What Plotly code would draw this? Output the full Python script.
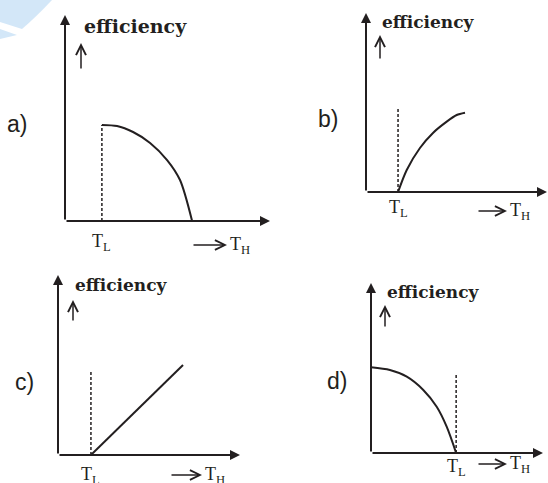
import plotly.graph_objects as go

W, H = 548, 483
INK = "#231f20"

# values (axis units 0..10 on both axes of every panel)
a_T = [1.80, 2.54, 3.32, 4.15, 4.98, 5.61, 6.20]
a_eff = [4.66, 4.61, 4.32, 3.79, 2.96, 1.99, 0.0]
a_TL, a_dash_top = 1.80, 4.66

b_T = [1.77, 2.25, 2.98, 3.70, 4.46, 5.01, 5.47]
b_eff = [0.0, 1.23, 2.46, 3.30, 3.93, 4.30, 4.43]
b_TL, b_dash_top = 1.77, 4.75

c_T = [1.81, 6.87]
c_eff = [0.0, 5.0]
c_TL, c_dash_top = 1.81, 4.72

d_T = [0.0, 1.10, 2.08, 3.04, 3.82, 4.40, 4.95]
d_eff = [5.04, 4.88, 4.49, 3.71, 2.72, 1.55, 0.0]
d_TL, d_dash_top = 4.95, 4.71

panel_labels = ["a)", "b)", "c)", "d)"]


def px(x):
    return x / W


def py(y):
    return 1 - y / H


# pixel boxes of each panel: origin x, arrow tip x, origin y, arrow tip y
boxes = [(65, 270, 221, 15), (366, 547, 192, 13), (58, 240, 455, 275), (371, 543, 453, 283)]

fig = go.Figure()
layout = dict(width=W, height=H, margin=dict(l=0, r=0, t=0, b=0),
              paper_bgcolor="white", plot_bgcolor="rgba(0,0,0,0)", showlegend=False)
for i, (x0, x1, y0, y1) in enumerate(boxes):
    n = "" if i == 0 else str(i + 1)
    layout["xaxis" + n] = dict(domain=[px(x0), px(x1)], range=[0, 10], visible=False,
                               anchor="y" + n, fixedrange=True)
    layout["yaxis" + n] = dict(domain=[py(y0), py(y1)], range=[0, 10], visible=False,
                               anchor="x" + n, fixedrange=True)
fig.update_layout(**layout)

curves = [(a_T, a_eff, "spline"), (b_T, b_eff, "spline"), (c_T, c_eff, "linear"), (d_T, d_eff, "spline")]
dashes = [(a_TL, a_dash_top), (b_TL, b_dash_top), (c_TL, c_dash_top), (d_TL, d_dash_top)]
for i in range(4):
    n = "" if i == 0 else str(i + 1)
    xs, ys, shape = curves[i]
    fig.add_trace(go.Scatter(x=xs, y=ys, mode="lines", xaxis="x" + n, yaxis="y" + n,
                             line=dict(color=INK, width=2, shape=shape, smoothing=0.8)))
    tl, top = dashes[i]
    fig.add_trace(go.Scatter(x=[tl, tl], y=[0, top], mode="lines", xaxis="x" + n, yaxis="y" + n,
                             line=dict(color=INK, width=1.5, dash="3px,2px")))

ann = []
# axes with filled arrow heads
for i in range(4):
    n = "" if i == 0 else str(i + 1)
    for (hx, hy) in [(10, 0), (0, 10)]:
        ann.append(dict(x=hx, y=hy, ax=0, ay=0, xref="x" + n, yref="y" + n,
                        axref="x" + n, ayref="y" + n, text="", showarrow=True,
                        arrowhead=2, arrowsize=1, arrowwidth=2, arrowcolor=INK))

# "efficiency" titles: left x, centre y, size
eff_pos = [(82, 26, 19), (380, 22, 17), (73, 285, 17), (385, 292, 17)]
for (x, y, s) in eff_pos:
    ann.append(dict(x=px(x), y=py(y), xref="paper", yref="paper", text="<b>efficiency</b>",
                    showarrow=False, xanchor="left", yanchor="middle",
                    font=dict(family="DejaVu Serif", size=s, color=INK)))

# small up arrows under the titles: x, top y, bottom y
up_pos = [(81, 43, 70), (380, 35, 60), (73, 300, 322), (385, 305, 328)]
for (x, t, b) in up_pos:
    ann.append(dict(x=px(x), y=py(t), xref="paper", yref="paper", ax=0, ay=b - t,
                    axref="pixel", ayref="pixel", text="", showarrow=True,
                    arrowhead=5, arrowsize=1.3, arrowwidth=1.5, arrowcolor=INK))

# panel letters: left x, centre y
lab_pos = [(5, 124), (316, 119), (13, 382), (325, 381)]
for lab, (x, y) in zip(panel_labels, lab_pos):
    ann.append(dict(x=px(x), y=py(y), xref="paper", yref="paper", text=lab, showarrow=False,
                    xanchor="left", yanchor="middle",
                    font=dict(family="Liberation Sans", size=23, color=INK)))

# T_L labels under the dashed line
tl_top = [229, 195, 462, 454]
for i in range(4):
    n = "" if i == 0 else str(i + 1)
    ann.append(dict(x=dashes[i][0], y=py(tl_top[i]), xref="x" + n, yref="paper",
                    text="T<sub>L</sub>", showarrow=False, xanchor="center", yanchor="top",
                    font=dict(family="Liberation Serif", size=18, color=INK)))

# "-> T_H": arrow start x, arrow end x, y
th_pos = [(192, 227, 245), (477, 507, 211), (170, 202, 475), (477, 507, 464)]
for (xa, xb, y) in th_pos:
    ann.append(dict(x=px(xb), y=py(y), xref="paper", yref="paper", ax=xa - xb, ay=0,
                    axref="pixel", ayref="pixel", text="", showarrow=True,
                    arrowhead=5, arrowsize=1.3, arrowwidth=1.5, arrowcolor=INK))
    ann.append(dict(x=px(xb + 1), y=py(y - 13), xref="paper", yref="paper",
                    text="T<sub>H</sub>", showarrow=False, xanchor="left", yanchor="top",
                    font=dict(family="Liberation Serif", size=18, color=INK)))

fig.update_layout(annotations=ann)

# faint watermark fragment in the top-left corner
fig.update_layout(shapes=[
    dict(type="path", xref="paper", yref="paper", layer="below", line=dict(width=0),
         fillcolor="#d3e7f8",
         path="M {} {} L {} {} Q {} {} {} {} L {} {} Z".format(
             px(0), py(0), px(52), py(0), px(35), py(18), px(22), py(29), px(0), py(22))),
    dict(type="path", xref="paper", yref="paper", layer="below", line=dict(width=0),
         fillcolor="#d3e7f8",
         path="M {} {} L {} {} L {} {} Z".format(px(0), py(29), px(17), py(35), px(0), py(39))),
])

# drop the default page margin so the figure sits at the window's corner
fig.write_html("out.html", config={"displayModeBar": False},
               post_script="document.body.style.margin='0';")
